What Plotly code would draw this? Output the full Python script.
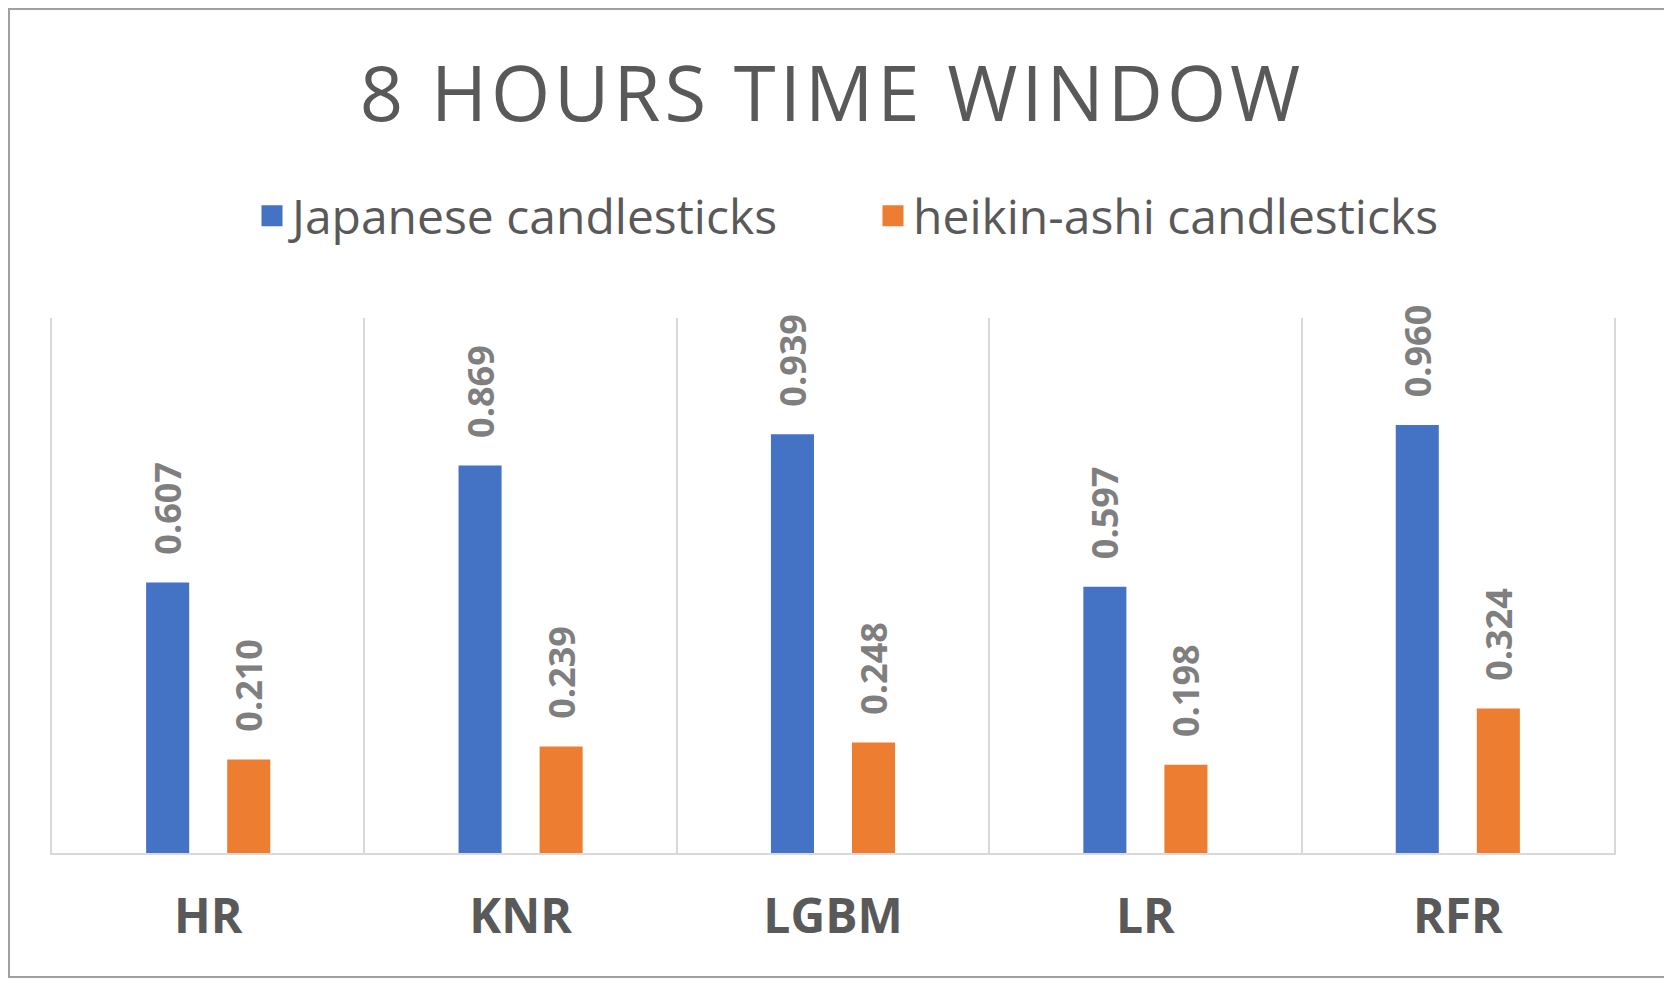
import plotly.graph_objects as go

categories = ["HR", "KNR", "LGBM", "LR", "RFR"]
japanese = [0.607, 0.869, 0.939, 0.597, 0.960]
heikin_ashi = [0.210, 0.239, 0.248, 0.198, 0.324]
series_names = ["Japanese candlesticks", "heikin-ashi candlesticks"]
title_text = "8 HOURS TIME WINDOW"

BLUE = "#4472C4"
ORANGE = "#ED7D31"
TEXT = "#595959"
LABEL = "#7F7F7F"
GRID = "#D9D9D9"

# page body has an 8px margin, so the figure is 8px smaller than the window
OFF = 8
W, H = 1672 - OFF, 985 - OFF
ML = 52 - OFF
MT = 318 - OFF
MR = W - (1614 - OFF)
MB = H - (853 - OFF)
PW, PH = W - ML - MR, H - MT - MB

label_tpl = "\u00a0\u00a0\u2009%{y:.3f}"

fig = go.Figure()
for name, vals, col in [(series_names[0], japanese, BLUE), (series_names[1], heikin_ashi, ORANGE)]:
    fig.add_trace(go.Bar(
        x=categories, y=vals, name=name, legendgroup=name, showlegend=False,
        marker=dict(color=col, line=dict(width=0)),
        texttemplate=label_tpl, textposition="outside", textangle=-90,
        constraintext="none", cliponaxis=False,
        textfont=dict(family="Open Sans", size=36, color=LABEL, weight="bold"),
        hoverinfo="skip",
    ))
    # legend entry with a larger square swatch
    fig.add_trace(go.Scatter(
        x=[None], y=[None], name=name, legendgroup=name, mode="markers",
        marker=dict(symbol="square", size=16, color=col, line=dict(color=col, width=5)),
        hoverinfo="skip", showlegend=True,
    ))

def px_to_paper_x(px):
    return (px - ML) / PW

def px_to_paper_y(py):
    return (H - MB - py) / PH

# chart border
fig.add_shape(type="rect", xref="paper", yref="paper",
              x0=px_to_paper_x(1), x1=px_to_paper_x(1665 - OFF),
              y0=px_to_paper_y(977 - OFF), y1=px_to_paper_y(1),
              line=dict(color="#A0A0A0", width=2), fillcolor="rgba(0,0,0,0)", layer="below")

fig.update_layout(
    width=W, height=H,
    margin=dict(l=ML, r=MR, t=MT, b=MB, pad=0),
    paper_bgcolor="white", plot_bgcolor="white",
    barmode="group", bargap=0.481, bargroupgap=0.469,
    title=dict(text='<span style="letter-spacing:4px">' + title_text + '</span>',
               x=0.5 - 8 / W, xref="container", xanchor="center",
               y=1 - (94 - OFF) / H, yref="container", yanchor="middle",
               font=dict(family="Open Sans", size=76, color=TEXT)),
    legend=dict(orientation="h", x=(252 - OFF) / W, xref="container", xanchor="left",
                y=1 - (216 - OFF) / H, yref="container", yanchor="middle",
                font=dict(family="Open Sans", size=48, color=TEXT),
                entrywidth=576, bgcolor="rgba(0,0,0,0)"),
    showlegend=True,
    xaxis=dict(type="category", tickson="boundaries", showgrid=True, gridcolor=GRID, gridwidth=2,
               showline=True, linecolor=GRID, linewidth=2, ticks="",
               tickfont=dict(family="Open Sans", size=48, color=TEXT, weight="bold"),
               ticklabelstandoff=20),
    yaxis=dict(range=[0, 1.2], showgrid=False, zeroline=False, showticklabels=False,
               showline=True, mirror=True, linecolor=GRID, linewidth=2, ticks=""),
)

fig.write_html("out.html")
